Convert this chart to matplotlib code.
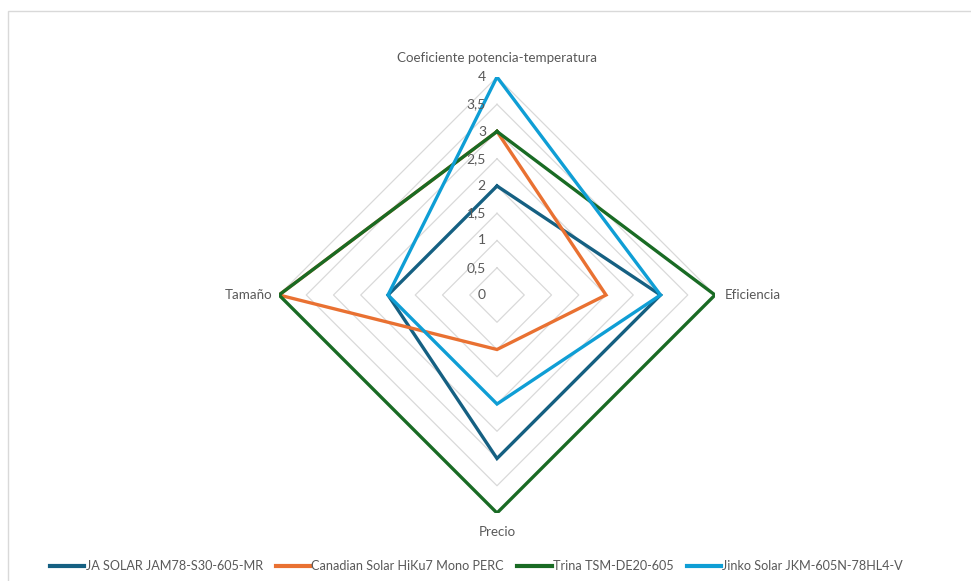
import numpy as np
import matplotlib
matplotlib.use("Agg")
import matplotlib.pyplot as plt
from matplotlib.patches import Rectangle

# axes go clockwise starting at the top
categories = ["Coeficiente potencia-temperatura", "Eficiencia", "Precio", "Tamaño"]
series_names = ["JA SOLAR JAM78-S30-605-MR", "Canadian Solar HiKu7 Mono PERC",
                "Trina TSM-DE20-605", "Jinko Solar JKM-605N-78HL4-V"]
ja_solar = [2, 3, 3, 2]
canadian = [3, 2, 1, 4]
trina = [3, 4, 4, 4]
jinko = [4, 3, 2, 2]
ticks = [0, 0.5, 1, 1.5, 2, 2.5, 3, 3.5, 4]
tick_labels = ["0", "0,5", "1", "1,5", "2", "2,5", "3", "3,5", "4"]

colors = ["#156082", "#E97132", "#196B24", "#0F9ED5"]
grid_col = "#D9D9D9"
text_col = "#595959"
plt.rcParams["font.family"] = ["Lato", "DejaVu Sans"]

W, H = 971, 581
fig = plt.figure(figsize=(W / 100, H / 100), dpi=100)
cx, cy, R = 497, 295, 218
ax = fig.add_axes([(cx - R) / W, (H - cy - R) / H, 2 * R / W, 2 * R / H],
                  projection="polar")
ax.set_theta_zero_location("N")
ax.set_theta_direction(-1)
ax.set_ylim(0, 4)
ax.axis("off")

n = len(categories)
angles = np.arange(n) * 2 * np.pi / n
closed = np.append(angles, angles[0])

# diamond grid rings
for t in ticks[1:]:
    ax.plot(closed, [t] * (n + 1), color=grid_col, lw=0.9, zorder=1)

for vals, name, c in zip([ja_solar, canadian, trina, jinko], series_names, colors):
    ax.plot(closed, vals + vals[:1], color=c, lw=2.4, label=name, zorder=3,
            solid_joinstyle="miter")

# radial tick labels on the top axis
for t, lab in zip(ticks, tick_labels):
    ax.annotate(lab, (0, t), xytext=(-8, 0), textcoords="offset points",
                ha="right", va="center", fontsize=10, color=text_col, zorder=4)

# category labels
fs = 9.6
ax.annotate(categories[0], (angles[0], 4), xytext=(0, 14), textcoords="offset points",
            ha="center", va="center", fontsize=fs, color=text_col)
ax.annotate(categories[1], (angles[1], 4), xytext=(7, 0), textcoords="offset points",
            ha="left", va="center", fontsize=fs, color=text_col)
ax.annotate(categories[2], (angles[2], 4), xytext=(0, -14), textcoords="offset points",
            ha="center", va="center", fontsize=fs, color=text_col)
ax.annotate(categories[3], (angles[3], 4), xytext=(-5, 0), textcoords="offset points",
            ha="right", va="center", fontsize=fs, color=text_col)

leg = fig.legend(loc="center", bbox_to_anchor=(476.5 / W, (H - 566) / H), ncol=4,
                 frameon=False, fontsize=9.1, handlelength=2.7, handletextpad=0.1,
                 columnspacing=1.05, borderaxespad=0)
for t in leg.get_texts():
    t.set_color(text_col)
for h in leg.legend_handles:
    h.set_linewidth(3.0)

# chart area border (runs off the right and bottom of the image)
fig.patches.append(Rectangle((7.5 / W, -0.2), 1.2, (H - 10.5) / H + 0.2,
                             transform=fig.transFigure, fill=False,
                             edgecolor=grid_col, lw=1.0))

fig.savefig("out.png", dpi=100)
